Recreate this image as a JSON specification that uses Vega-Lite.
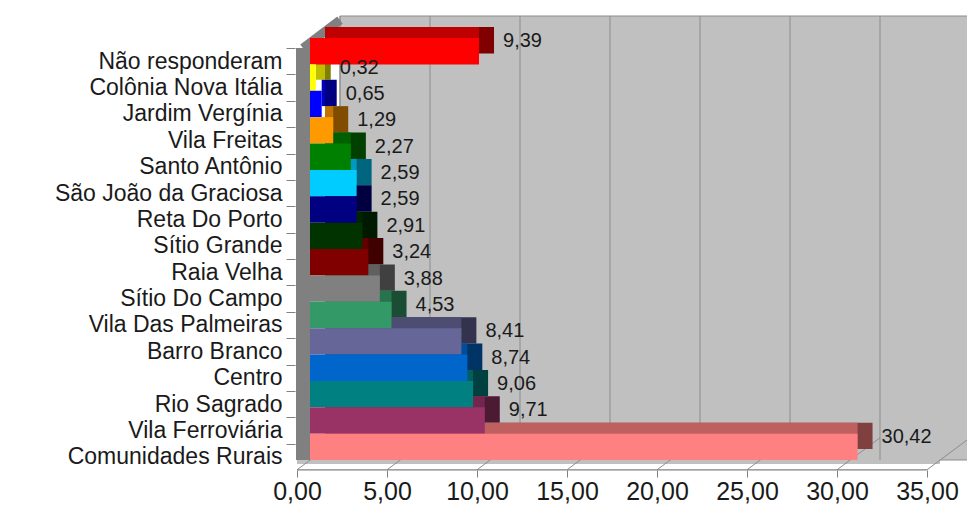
{
  "$schema": "https://vega.github.io/schema/vega-lite/v6.json",
  "width": 630,
  "height": 422,
  "autosize": "none",
  "padding": {"left": 310, "top": 38, "right": 27, "bottom": 51},
  "background": "white",
  "config": {
    "font": "Liberation Sans",
    "view": {"stroke": null},
    "locale": {"number": {"decimal": ",", "thousands": ".", "grouping": [3], "currency": ["R$", ""]}}
  },
  "datasets": {
    "bairros": [
      {"area": "Não responderam", "value": 9.39},
      {"area": "Colônia Nova Itália", "value": 0.32},
      {"area": "Jardim Vergínia", "value": 0.65},
      {"area": "Vila Freitas", "value": 1.29},
      {"area": "Santo Antônio", "value": 2.27},
      {"area": "São João da Graciosa", "value": 2.59},
      {"area": "Reta Do Porto", "value": 2.59},
      {"area": "Sítio Grande", "value": 2.91},
      {"area": "Raia Velha", "value": 3.24},
      {"area": "Sítio Do Campo", "value": 3.88},
      {"area": "Vila Das Palmeiras", "value": 4.53},
      {"area": "Barro Branco", "value": 8.41},
      {"area": "Centro", "value": 8.74},
      {"area": "Rio Sagrado", "value": 9.06},
      {"area": "Vila Ferroviária", "value": 9.71},
      {"area": "Comunidades Rurais", "value": 30.42}
    ],
    "grid": [{"g": 0}, {"g": 5}, {"g": 10}, {"g": 15}, {"g": 20}, {"g": 25}, {"g": 30}, {"g": 35}]
  },
  "layer": [
    {
      "data": {"values": [{}]},
      "mark": {"type": "rect", "fill": "#c0c0c0", "stroke": "#8c8c8c", "strokeWidth": 1, "xOffset": 30, "x2Offset": 30, "yOffset": -22, "y2Offset": -22},
      "encoding": {"x": {"datum": 0, "type": "quantitative", "title": null}, "x2": {"datum": 35}}
    },
    {
      "data": {"values": [{}]},
      "mark": {"type": "rect", "fill": "#c0c0c0", "xOffset": -13, "x2Offset": 0, "yOffset": 4, "y2Offset": 10},
      "encoding": {
        "x": {"datum": 0, "type": "quantitative", "title": null},
        "x2": {"datum": 35},
        "y": {"datum": "Comunidades Rurais", "type": "nominal", "title": null}
      }
    },
    {
      "data": {"name": "grid"},
      "mark": {"type": "rule", "color": "#8c8c8c", "strokeWidth": 1, "xOffset": 30, "yOffset": -22, "y2Offset": -22},
      "encoding": {"x": {"field": "g", "type": "quantitative", "title": null}}
    },
    {
      "data": {"name": "grid"},
      "mark": {"type": "rule", "color": "#8c8c8c", "strokeWidth": 1, "xOffset": 30, "x2Offset": -13, "yOffset": -9, "y2Offset": 23},
      "encoding": {
        "x": {"field": "g", "type": "quantitative", "title": null},
        "x2": {"field": "g"},
        "y": {"datum": "Comunidades Rurais", "type": "nominal", "title": null},
        "y2": {"datum": "Comunidades Rurais"}
      }
    },
    {
      "data": {"values": [{}]},
      "mark": {"type": "rule", "color": "#808080", "strokeWidth": 1.2, "xOffset": -13, "x2Offset": -13, "yOffset": 23, "y2Offset": 23},
      "encoding": {
        "x": {"datum": 0, "type": "quantitative", "title": null},
        "x2": {"datum": 35},
        "y": {"datum": "Comunidades Rurais", "type": "nominal", "title": null},
        "y2": {"datum": "Comunidades Rurais"}
      }
    },
    {
      "data": {"values": [{}]},
      "mark": {"type": "rule", "color": "#808080", "strokeWidth": 14, "xOffset": -7, "yOffset": 10, "y2Offset": 10},
      "encoding": {"x": {"datum": 0, "type": "quantitative", "title": null}}
    },
    {
      "data": {"values": [{}]},
      "mark": {"type": "rule", "color": "#808080", "strokeWidth": 9, "xOffset": -7, "x2Offset": 30, "yOffset": -3, "y2Offset": -31},
      "encoding": {
        "x": {"datum": 0, "type": "quantitative", "title": null},
        "x2": {"datum": 0},
        "y": {"datum": "Não responderam", "type": "nominal", "title": null},
        "y2": {"datum": "Não responderam"}
      }
    },
    {
      "data": {"name": "bairros"},
      "mark": {"type": "rect", "xOffset": 15, "x2Offset": 15, "yOffset": -11, "y2Offset": -11},
      "encoding": {
        "x": {"field": "value", "type": "quantitative", "title": null},
        "x2": {"datum": 0},
        "y": {"field": "area", "type": "nominal", "title": null},
        "color": {
          "field": "area", "type": "nominal", "legend": null,
          "scale": {
            "domain": ["Não responderam", "Colônia Nova Itália", "Jardim Vergínia", "Vila Freitas", "Santo Antônio", "São João da Graciosa", "Reta Do Porto", "Sítio Grande", "Raia Velha", "Sítio Do Campo", "Vila Das Palmeiras", "Barro Branco", "Centro", "Rio Sagrado", "Vila Ferroviária", "Comunidades Rurais"],
            "range": ["#800000", "#808000", "#000080", "#804D00", "#004000", "#006680", "#000040", "#001A00", "#400000", "#404040", "#1A4D33", "#33334D", "#003366", "#004040", "#4D1A33", "#804040"]
          }
        }
      }
    },
    {
      "data": {"name": "bairros"},
      "mark": {"type": "rect", "xOffset": 0, "x2Offset": 15, "yOffset": -11, "y2Offset": -11},
      "encoding": {
        "x": {"field": "value", "type": "quantitative", "title": null},
        "x2": {"datum": 0},
        "y": {"field": "area", "type": "nominal", "title": null},
        "color": {
          "field": "area", "type": "nominal", "legend": null,
          "scale": {
            "domain": ["Não responderam", "Colônia Nova Itália", "Jardim Vergínia", "Vila Freitas", "Santo Antônio", "São João da Graciosa", "Reta Do Porto", "Sítio Grande", "Raia Velha", "Sítio Do Campo", "Vila Das Palmeiras", "Barro Branco", "Centro", "Rio Sagrado", "Vila Ferroviária", "Comunidades Rurais"],
            "range": ["#BF0000", "#BFBF00", "#0000BF", "#BF7300", "#006000", "#0099BF", "#000060", "#002600", "#600000", "#606060", "#26734D", "#4D4D73", "#004D99", "#006060", "#73264D", "#BF6060"]
          }
        }
      }
    },
    {
      "data": {"name": "bairros"},
      "mark": {"type": "rect"},
      "encoding": {
        "x": {
          "field": "value", "type": "quantitative", "title": null,
          "scale": {"domain": [0, 35], "nice": false, "zero": true},
          "axis": {"format": ",.2f", "values": [0, 5, 10, 15, 20, 25, 30, 35], "labelOverlap": false, "labelFlush": false, "offset": 10, "domain": false, "tickSize": 7, "tickOffset": -13, "labelOffset": 0, "tickColor": "#808080", "labelFontSize": 25, "labelColor": "#1a1a1a", "labelPadding": 2, "grid": false, "title": null, "labelFont": "Liberation Sans"}
        },
        "x2": {"datum": 0},
        "y": {
          "field": "area", "type": "nominal", "title": null,
          "scale": {
            "type": "band",
            "domain": ["Não responderam", "Colônia Nova Itália", "Jardim Vergínia", "Vila Freitas", "Santo Antônio", "São João da Graciosa", "Reta Do Porto", "Sítio Grande", "Raia Velha", "Sítio Do Campo", "Vila Das Palmeiras", "Barro Branco", "Centro", "Rio Sagrado", "Vila Ferroviária", "Comunidades Rurais"],
            "paddingInner": 0, "paddingOuter": 0
          },
          "axis": {"offset": 15, "domain": false, "bandPosition": 0, "tickOffset": 10, "labelOffset": 0, "tickSize": 9, "tickColor": "#808080", "labelPadding": 4, "labelFontSize": 23, "labelColor": "#1a1a1a", "labelLimit": 400, "labelOverlap": false, "title": null, "grid": false, "labelFont": "Liberation Sans"}
        },
        "color": {
          "field": "area", "type": "nominal", "legend": null,
          "scale": {
            "domain": ["Não responderam", "Colônia Nova Itália", "Jardim Vergínia", "Vila Freitas", "Santo Antônio", "São João da Graciosa", "Reta Do Porto", "Sítio Grande", "Raia Velha", "Sítio Do Campo", "Vila Das Palmeiras", "Barro Branco", "Centro", "Rio Sagrado", "Vila Ferroviária", "Comunidades Rurais"],
            "range": ["#FF0000", "#FFFF00", "#0000FF", "#FF9900", "#008000", "#00CCFF", "#000080", "#003300", "#800000", "#808080", "#339966", "#666699", "#0066CC", "#008080", "#993366", "#FF8080"]
          }
        }
      }
    },
    {
      "data": {"name": "bairros"},
      "mark": {"type": "text", "align": "left", "baseline": "middle", "dx": 24, "dy": -10, "fontSize": 20, "color": "#1a1a1a", "font": "Liberation Sans"},
      "encoding": {
        "x": {"field": "value", "type": "quantitative", "title": null},
        "y": {"field": "area", "type": "nominal", "title": null},
        "text": {"field": "value", "type": "quantitative", "format": ",.2f"}
      }
    }
  ],
  "resolve": {"scale": {"color": "independent"}}
}
